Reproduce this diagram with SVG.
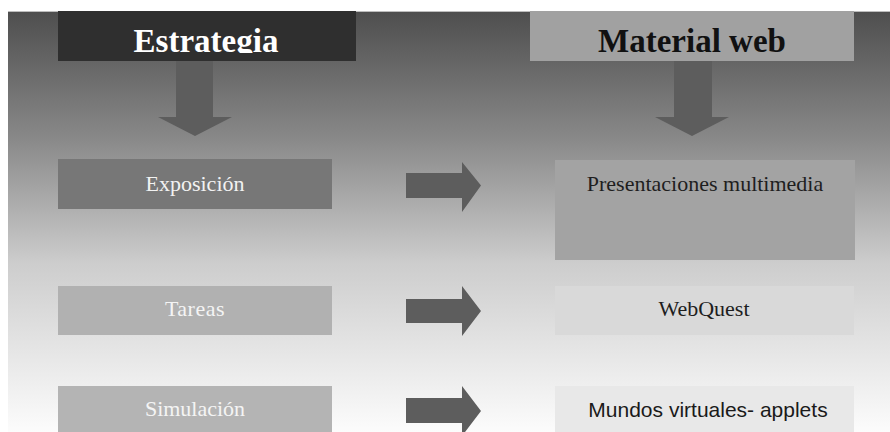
<svg xmlns="http://www.w3.org/2000/svg" width="890" height="432" viewBox="0 0 890 432">
<defs>
<linearGradient id="bg" x1="0" y1="0" x2="0" y2="1">
<stop offset="0" stop-color="#4e4e4e"/>
<stop offset="0.3" stop-color="#888888"/>
<stop offset="0.6" stop-color="#cdcdcd"/>
<stop offset="1" stop-color="#fcfcfc"/>
</linearGradient>
<clipPath id="clipE"><rect x="58" y="11" width="298" height="42"/></clipPath>
<clipPath id="clipM"><rect x="530" y="11" width="324" height="42"/></clipPath>
</defs>
<style>
.head{font-family:"Liberation Serif","Times New Roman",serif;font-weight:bold;font-size:33px;text-anchor:middle}
.lbl{font-family:"Liberation Serif","Times New Roman",serif;font-size:22px;text-anchor:middle}
.sans{font-family:"Liberation Sans",Arial,sans-serif;font-size:21px;text-anchor:middle}
.arrow{fill:#5d5d5d}
</style>
<rect x="0" y="0" width="890" height="432" fill="#ffffff"/>
<rect x="8" y="11" width="882" height="421" fill="url(#bg)"/>
<line x1="8" y1="11.5" x2="890" y2="11.5" stroke="#bdbdbd" stroke-width="1"/>
<g id="connectors">
<polygon class="arrow" points="176,61 213,61 213,117 232,117 195,136 158,117 176,117"/>
<polygon class="arrow" points="674,61 712,61 712,117 729,117 692,136 655,117 674,117"/>
<polygon class="arrow" points="406,173 462,173 462,162 481,185.5 462,212 462,198 406,198"/>
<polygon class="arrow" points="406,299 462,299 462,286 481,311 462,336 462,323 406,323"/>
<polygon class="arrow" points="406,398 462,398 462,386 481,411 462,436 462,423 406,423"/>
</g>
<g id="estrategia">
<rect x="58" y="11" width="298" height="50" fill="#2f2f2f"/>
<text class="head" x="206" y="52" fill="#ffffff" clip-path="url(#clipE)">Estrategia</text>
</g>
<g id="material-web">
<rect x="530" y="11" width="324" height="50" fill="#a1a1a1"/>
<text class="head" x="692" y="52" fill="#111111" clip-path="url(#clipM)">Material web</text>
</g>
<g id="exposicion">
<rect x="58" y="159" width="274" height="50" fill="#777777"/>
<text class="lbl" x="195" y="191" fill="#f2f2f2">Exposición</text>
</g>
<g id="presentaciones">
<rect x="555" y="160" width="300" height="100" fill="#a3a3a3"/>
<text class="lbl" x="705" y="191" fill="#1e1e1e">Presentaciones multimedia</text>
</g>
<g id="tareas">
<rect x="58" y="286" width="274" height="49" fill="#b1b1b1"/>
<text class="lbl" x="195" y="316" fill="#f4f4f4" letter-spacing="0.5">Tareas</text>
</g>
<g id="webquest">
<rect x="555" y="286" width="299" height="49" fill="#d9d9d9"/>
<text class="lbl" x="704" y="316" fill="#1e1e1e">WebQuest</text>
</g>
<g id="simulacion">
<rect x="58" y="386" width="274" height="46" fill="#b4b4b4"/>
<text class="lbl" x="195" y="416" fill="#f4f4f4">Simulación</text>
</g>
<g id="mundos">
<rect x="555" y="386" width="299" height="46" fill="#e8e8e8"/>
<text class="sans" x="708" y="417" fill="#1a1a1a">Mundos virtuales- applets</text>
</g>
</svg>
